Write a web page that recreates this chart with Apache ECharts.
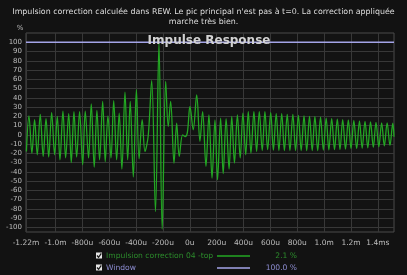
<!DOCTYPE html>
<html>
<head>
<meta charset="utf-8">
<script src="https://cdn.jsdelivr.net/npm/echarts@6/dist/echarts.min.js"></script>
<style>
html,body{margin:0;padding:0;background:#121212;}
#chart{width:407px;height:275px;}
</style>
</head>
<body>
<div id="chart"></div>
<script>
// ---- data ----
const titleText = "Impulsion correction calculée dans REW. Le pic principal n'est pas à t=0. La correction appliquée\nmarche très bien.";
const plotTitle = "Impulse Response";
const xTicks = [-1220,-1000,-800,-600,-400,-200,0,200,400,600,800,1000,1200,1400];
const xTickLabels = ["-1.22m","-1.0m","-800u","-600u","-400u","-200u","0u","200u","400u","600u","800u","1.0m","1.2m","1.4ms"];
const yTicks = [-100,-90,-80,-70,-60,-50,-40,-30,-20,-10,0,10,20,30,40,50,60,70,80,90,100];
const seriesNames = ["Impulsion correction 04 -top","Window"];
const seriesReadouts = ["2.1 %","100.0 %"];
const impulseTimeUs = [-1217,-1198,-1176,-1156,-1136,-1114,-1092,-1071,-1051,-1029,
-1007,-987,-967,-945,-925,-902,-883,-863,-843,-821,
-798,-779,-754,-734,-712,-692,-672,-649,-630,-610,
-587,-567,-545,-526,-506,-483,-463,-444,-421,-398,
-378,-355,-334,-310,-284,-256,-230,-206,-180,-161,
-143,-118,-98,-79,-54,-36,-19,1,25,51,
75,95,120,142,165,187,206,229,248,270,
292,312,332,354,375,395,416,435,455,477,
497,517,539,559,579,602,622,643,663,684,
704,725,745,767,787,808,829,850,870,891,
911,931,952,973,994,1015,1035,1056,1077,1098,
1118,1138,1159,1180,1200,1221,1242,1263,1283,1304,
1325,1345,1366,1386,1407,1428,1448,1469,1490,1511,1520];
const impulseValues = [-18,20.5,-19.8,16.5,-21.6,22,-23.4,17.5,-24,24,
-21.6,20,-27,25.5,-25,23,-30,25,-24,25,
-32.4,25.5,-25,33.5,-35,26.3,-27,36,-29,20.5,
-25,37,-27,23.4,-37,46,-27,36,-45.7,49,
-26,16.5,-18,-1,58.5,-83,99,-102,57.6,9,
36,-30.6,12.6,-23.4,0,-2,2,30.6,5.4,43,
-7,25,-34,21.6,-46.8,16,-48.6,18,-42,17.5,
-37,19.8,-30.6,21.6,-25,23.4,-21.6,25,-19.8,25,
-18,25,-17,25,-16,24,-16.5,23,-17,23,
-17,22,-17,22,-17,21,-17,20.5,-17,20,
-17,19.5,-17,19,-16.5,18,-16.5,17.5,-16,17,
-16,16.5,-15.5,16,-15,15.5,-15,15,-14.5,14.5,
-14,14,-13.5,13.5,-13,13,-12,13,-11.5,12.6,-2];
const windowTimeUs = [-1220,1520];
const windowValues = [100,100];

// ---- chart ----
const FONT = "DejaVu Sans";
const GREEN = "#23a823";
const LAV = "#a4a4e8";
const n = Math.min(impulseTimeUs.length, impulseValues.length);
const impulseData = [];
for (let i = 0; i < n; i++) impulseData.push([impulseTimeUs[i], impulseValues[i]]);
const windowData = windowTimeUs.map((t, i) => [t, windowValues[i]]);

const chart = echarts.init(document.getElementById('chart'), null, {renderer: 'canvas'});

function checkbox(x, y) {
  return [
    {type:'rect', shape:{x:x, y:y, width:6, height:6}, style:{fill:'#e6e6e6'}, z:100},
    {type:'polyline', shape:{points:[[x+1,y+3],[x+2.6,y+4.8],[x+5.3,y+0.8]]}, style:{stroke:'#1a1a1a', lineWidth:1.3, fill:null}, z:101}
  ];
}

const graphics = [
  {type:'text', x:20, y:28, z:100, style:{text:'%', fontSize:7, fontFamily:FONT, fill:'#bdbdbd', align:'center', verticalAlign:'middle'}},
  {type:'text', x:209, y:41, z:100, style:{text:plotTitle, fontSize:12, fontWeight:'bold', fontFamily:FONT, fill:'#d2d2d2', align:'center', verticalAlign:'middle'}},
  ...checkbox(96, 252.5),
  ...checkbox(96, 264.5),
  {type:'text', x:106, y:256, z:100, style:{text:seriesNames[0], fontSize:7.6, fontFamily:FONT, fill:'#2c8c2c', align:'left', verticalAlign:'middle'}},
  {type:'text', x:106, y:268, z:100, style:{text:seriesNames[1], fontSize:7.6, fontFamily:FONT, fill:'#8c8cd0', align:'left', verticalAlign:'middle'}},
  {type:'line', shape:{x1:217, y1:256, x2:250, y2:256}, style:{stroke:GREEN, lineWidth:1.5}, z:100},
  {type:'line', shape:{x1:217, y1:268, x2:250, y2:268}, style:{stroke:LAV, lineWidth:1.5}, z:100},
  {type:'text', x:297, y:256, z:100, style:{text:seriesReadouts[0], fontSize:7.6, fontFamily:FONT, fill:'#2c8c2c', align:'right', verticalAlign:'middle'}},
  {type:'text', x:297, y:268, z:100, style:{text:seriesReadouts[1], fontSize:7.6, fontFamily:FONT, fill:'#8c8cd0', align:'right', verticalAlign:'middle'}}
];

chart.setOption({
  animation: false,
  backgroundColor: '#121212',
  title: {
    text: titleText,
    left: 'center',
    top: 2,
    textStyle: {fontSize: 7.9, lineHeight: 10, fontWeight: 'normal', fontFamily: FONT, color: '#dedede'}
  },
  grid: {left: 26, right: 13, top: 33, bottom: 43, show: true, borderColor: '#4a4a4a', borderWidth: 1, backgroundColor: '#131313', containLabel: false},
  xAxis: {
    type: 'value', min: -1220, max: 1520,
    axisLine: {show: false},
    axisTick: {show: false, customValues: xTicks},
    axisLabel: {customValues: xTicks, interval: 0, margin: 7, fontSize: 7.5, fontFamily: FONT, color: '#bdbdbd',
      formatter: v => { const i = xTicks.indexOf(v); return i >= 0 ? xTickLabels[i] : ''; }},
    splitLine: {show: true, lineStyle: {color: '#383838', width: 1}}
  },
  yAxis: {
    type: 'value', min: -105, max: 110,
    axisLine: {show: false},
    axisTick: {show: false, customValues: yTicks},
    axisLabel: {customValues: yTicks, interval: 0, margin: 4, fontSize: 7, fontFamily: FONT, color: '#bdbdbd'},
    splitLine: {show: true, lineStyle: {color: '#383838', width: 1}}
  },
  series: [
    {name: seriesNames[0], type: 'line', data: impulseData, showSymbol: false, smooth: 0.35,
     lineStyle: {color: GREEN, width: 1.3}, z: 3},
    {name: seriesNames[1], type: 'line', data: windowData, showSymbol: false,
     lineStyle: {color: LAV, width: 1.5}, z: 4}
  ],
  graphic: graphics
});
</script>
</body>
</html>
